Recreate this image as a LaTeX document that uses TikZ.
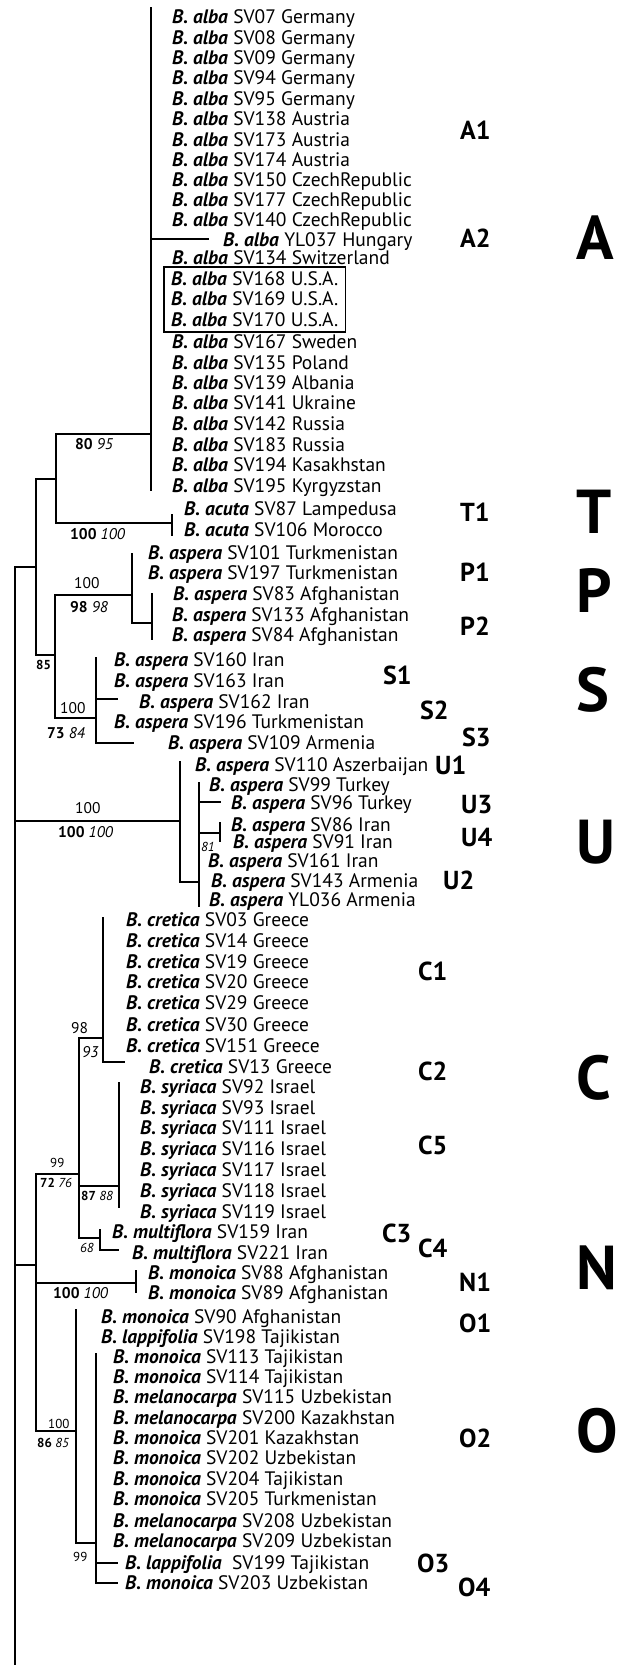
\documentclass[tikz,border=0pt]{standalone}
\usepackage{fontspec}
\setmainfont{PT Sans}
\usetikzlibrary{fit}
\newcommand{\taxname}[1]{\textbf{\textit{B. #1}}}

\begin{document}
\begin{tikzpicture}[x=1pt, y=-1pt,
    taxon/.style={anchor=west, inner sep=0pt, text height=13pt, text depth=0pt, font=\fontsize{19.5}{19.5}\selectfont},
    br/.style={line width=2pt, line cap=rect},
    sv/.style={anchor=west, inner sep=0pt, font=\fontsize{15.5}{15.5}\selectfont},
    svs/.style={anchor=west, inner sep=0pt, font=\fontsize{13}{13}\selectfont},
    clade/.style={anchor=west, inner sep=0pt, font=\bfseries\fontsize{26}{26}\selectfont},
    bigclade/.style={anchor=west, inner sep=0pt, font=\bfseries\fontsize{62}{62}\selectfont}]
  \useasboundingbox (0,0) rectangle (621,1665);

  % taxa
  \foreach \id/\x/\y/\g/\rest in {
      a07/172/17/alba/SV07 Germany, a08/172/38/alba/SV08 Germany,
      a09/172/58/alba/SV09 Germany, a94/172/78/alba/SV94 Germany,
      a95/172/99/alba/SV95 Germany, a138/172/119/alba/SV138 Austria,
      a173/172/140/alba/SV173 Austria, a174/172/160/alba/SV174 Austria,
      a150/172/180/alba/SV150 CzechRepublic, a177/172/200/alba/SV177 CzechRepublic,
      a140/172/220/alba/SV140 CzechRepublic, a037/223/240/alba/YL037 Hungary,
      a134/172/258/alba/SV134 Switzerland, a168/171/279/alba/SV168 U.S.A.,
      a169/171/299/alba/SV169 U.S.A., a170/171/320/alba/SV170 U.S.A.,
      a167/172/342/alba/SV167 Sweden, a135/172/363/alba/SV135 Poland,
      a139/172/383/alba/SV139 Albania, a141/172/403/alba/SV141 Ukraine,
      a142/172/424/alba/SV142 Russia, a183/172/445/alba/SV183 Russia,
      a194/172/465/alba/SV194 Kasakhstan, a195/172/486/alba/SV195 Kyrgyzstan,
      c87/184/509/acuta/SV87 Lampedusa, c106/184/530/acuta/SV106 Morocco,
      s101/148/553/aspera/SV101 Turkmenistan, s197/148/573/aspera/SV197 Turkmenistan,
      s83/173/594/aspera/SV83 Afghanistan, s133/172/615/aspera/SV133 Afghanistan,
      s84/172/635/aspera/SV84 Afghanistan, s160/114/660/aspera/SV160 Iran,
      s163/114/681/aspera/SV163 Iran, s162/139/702/aspera/SV162 Iran,
      s196/114/722/aspera/SV196 Turkmenistan, s109/168/743/aspera/SV109 Armenia,
      s110/195/765/aspera/SV110 Aszerbaijan, s99/209/785/aspera/SV99 Turkey,
      s96/231/803/aspera/SV96 Turkey, s86/231/825/aspera/SV86 Iran,
      s91/233/842/aspera/SV91 Iran, s161/208/861/aspera/SV161 Iran,
      s143/211/881/aspera/SV143 Armenia, s036/209/900/aspera/YL036 Armenia,
      k03/126/920/cretica/SV03 Greece, k14/126/941/cretica/SV14 Greece,
      k19/126/962/cretica/SV19 Greece, k20/126/982/cretica/SV20 Greece,
      k29/126/1003/cretica/SV29 Greece, k30/126/1025/cretica/SV30 Greece,
      k151/126/1046/cretica/SV151 Greece, k13/149/1067/cretica/SV13 Greece,
      y92/140/1087/syriaca/SV92 Israel, y93/140/1108/syriaca/SV93 Israel,
      y111/140/1128/syriaca/SV111 Israel, y116/140/1149/syriaca/SV116 Israel,
      y117/140/1170/syriaca/SV117 Israel, y118/140/1191/syriaca/SV118 Israel,
      y119/140/1212/syriaca/SV119 Israel,
      m159/112/1232/multiflora/SV159 Iran, m221/132/1253/multiflora/SV221 Iran,
      o88/148/1273/monoica/SV88 Afghanistan, o89/148/1293/monoica/SV89 Afghanistan,
      o90/101/1317/monoica/SV90 Afghanistan, l198/101/1337/lappifolia/SV198 Tajikistan,
      o113/113/1357/monoica/SV113 Tajikistan, o114/113/1377/monoica/SV114 Tajikistan,
      e115/113/1397/melanocarpa/SV115 Uzbekistan, e200/113/1418/melanocarpa/SV200 Kazakhstan,
      o201/113/1438/monoica/SV201 Kazakhstan, o202/113/1458/monoica/SV202 Uzbekistan,
      o204/113/1479/monoica/SV204 Tajikistan, o205/113/1499/monoica/SV205 Turkmenistan,
      e208/113/1521/melanocarpa/SV208 Uzbekistan, e209/113/1541/melanocarpa/SV209 Uzbekistan,
      l199/125/1563/lappifolia/{\ SV199 Tajikistan}, o203/125/1583/monoica/SV203 Uzbekistan}
    \node[taxon] (t\id) at (\x,\y) {\taxname{\g} \rest};
  \node[draw, line width=1.8pt, fit=(ta168)(ta170), inner xsep=7pt, inner ysep=5.5pt] (usabox) {};

  % tree vertices
  \coordinate (r0) at (15,567);     \coordinate (rend) at (15,1665);
  \coordinate (n1a) at (36,479);    \coordinate (n1b) at (36,655);
  \coordinate (ata) at (56,434);    \coordinate (atb) at (56,523);
  \coordinate (alba) at (151,8);    \coordinate (albb) at (151,490);
  \coordinate (hung) at (208,239);
  \coordinate (acua) at (172,515);  \coordinate (acub) at (172,535);
  \coordinate (psa) at (55,595);    \coordinate (psb) at (55,718);
  \coordinate (pa) at (132,554);    \coordinate (pb) at (132,623);
  \coordinate (ppa) at (152,594);   \coordinate (ppb) at (152,639);
  \coordinate (sa) at (96,658);     \coordinate (sb) at (96,743);
  \coordinate (s162) at (117,699);  \coordinate (s109) at (133,743);
  \coordinate (uj) at (180,821);
  \coordinate (ua) at (180,762);    \coordinate (ub) at (180,882);
  \coordinate (va) at (199,783);    \coordinate (vb) at (199,906);
  \coordinate (u96) at (220,802);
  \coordinate (wa) at (220,823);    \coordinate (wb) at (220,841);
  \coordinate (wj) at (220,833);
  \coordinate (lj) at (36,1265);
  \coordinate (la) at (36,1174);    \coordinate (lb) at (36,1431);
  \coordinate (ca) at (79,1038);    \coordinate (cb) at (79,1238);
  \coordinate (cra) at (103,918);   \coordinate (crb) at (103,1062);
  \coordinate (c13) at (124,1062);
  \coordinate (sya) at (119,1083);  \coordinate (syb) at (119,1207);
  \coordinate (syj) at (119,1186);
  \coordinate (mfa) at (100,1230);  \coordinate (mfb) at (100,1250);
  \coordinate (m221) at (118,1250);
  \coordinate (nj) at (136,1283);
  \coordinate (na) at (136,1271);   \coordinate (nb) at (136,1292);
  \coordinate (oa) at (76,1310);    \coordinate (ob) at (76,1543);
  \coordinate (qa) at (96,1354);    \coordinate (qb) at (96,1583);
  \coordinate (o199) at (117,1563); \coordinate (o203) at (117,1583);

  % verticals
  \foreach \p/\q in {r0/rend, n1a/n1b, ata/atb, alba/albb, acua/acub, psa/psb,
      pa/pb, ppa/ppb, sa/sb, ua/ub, va/vb, wa/wb, la/lb, ca/cb, cra/crb,
      sya/syb, mfa/mfb, na/nb, oa/ob, qa/qb}
    \draw[br] (\p) -- (\q);

  % horizontals
  \draw[br] (r0) -- (r0 -| n1a);
  \draw[br] (n1a) -- (n1a -| ata);
  \draw[br] (ata) -- (ata -| alba);
  \draw[br] (hung -| alba) -- (hung);
  \draw[br] (atb) -- (atb -| acua);
  \draw[br] (n1b) -- (n1b -| psa);
  \draw[br] (psa) -- (psa -| pa);
  \draw[br] (pb) -- (pb -| ppa);
  \draw[br] (psb) -- (psb -| sa);
  \draw[br] (s162 -| sa) -- (s162);
  \draw[br] (sb) -- (s109);
  \draw[br] (uj -| r0) -- (uj);
  \draw[br] (ub) -- (ub -| va);
  \draw[br] (u96 -| va) -- (u96);
  \draw[br] (wj -| va) -- (wj);
  \draw[br] (lj -| r0) -- (lj);
  \draw[br] (la) -- (la -| ca);
  \draw[br] (ca) -- (ca -| cra);
  \draw[br] (crb) -- (c13);
  \draw[br] (syj -| ca) -- (syj);
  \draw[br] (cb) -- (cb -| mfa);
  \draw[br] (mfb) -- (m221);
  \draw[br] (nj -| la) -- (nj);
  \draw[br] (lb) -- (lb -| oa);
  \draw[br] (ob) -- (ob -| qa);
  \draw[br] (o199 -| qa) -- (o199);
  \draw[br] (qb) -- (o203);

  % support values
  \node[sv] (b1) at (75,444) {\textbf{80} \textit{95}};
  \node[sv] (b2) at (70,534) {\textbf{100} \textit{100}};
  \node[sv] (b3) at (74,583) {100};
  \node[sv] (b4) at (70,607) {\textbf{98} \textit{98}};
  \node[svs] (b5) at (36,665) {\textbf{85}};
  \node[sv] (b6) at (60,708) {100};
  \node[sv] (b7) at (47,733) {\textbf{73} \textit{84}};
  \node[sv] (b8) at (75,808) {100};
  \node[sv] (b9) at (58,832) {\textbf{100} \textit{100}};
  \node[svs] (b10) at (201,847) {\textit{81}};
  \node[sv] (b11) at (71,1028) {98};
  \node[sv] (b12) at (82,1052) {\textit{93}};
  \node[svs] (b13) at (50,1163) {99};
  \node[svs] (b14) at (40,1183) {\textbf{72} \textit{76}};
  \node[svs] (b15) at (81,1196) {\textbf{87} \textit{88}};
  \node[svs] (b16) at (80,1248) {\textit{68}};
  \node[sv] (b17) at (53,1293) {\textbf{100} \textit{100}};
  \node[svs] (b18) at (48,1424) {100};
  \node[svs] (b19) at (37,1443) {\textbf{86} \textit{85}};
  \node[svs] (b20) at (73,1557) {99};

  % clade labels
  \foreach \lab/\x/\y in {A1/460/130, A2/460/238, T1/460/512, P1/460/572, P2/460/626,
      S1/383/675, S2/420/710, S3/462/737, U1/435/765, U3/461/805, U4/461/837,
      U2/443/880, C1/418/971, C2/418/1071, C5/418/1145, C3/382/1233, C4/418/1248,
      N1/459/1282, O1/459/1323, O2/459/1438, O3/417/1563, O4/458/1587}
    \node[clade] (cl\lab) at (\x,\y) {\lab};
  \foreach \lab/\y in {A/238, T/512, P/590, S/690, U/842, C/1078, N/1268, O/1431}
    \node[bigclade] (big\lab) at (576,\y) {\lab};
\end{tikzpicture}
\end{document}
